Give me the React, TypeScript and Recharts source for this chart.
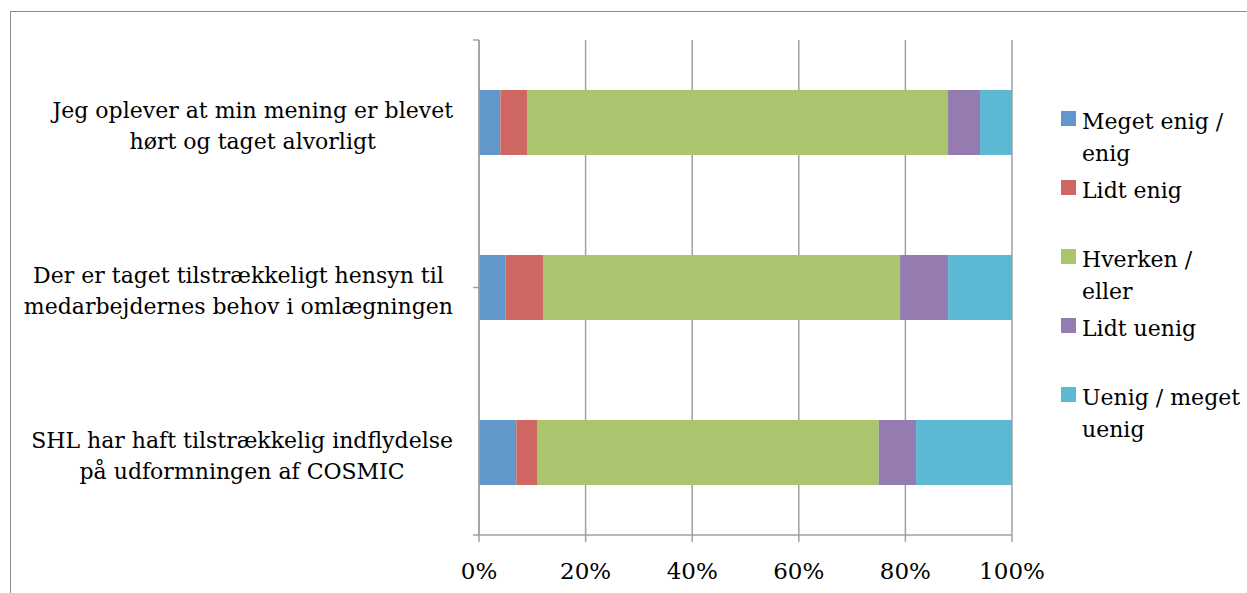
import React from "react";
import {
  BarChart,
  Bar,
  XAxis,
  YAxis,
  CartesianGrid,
  Legend,
} from "recharts";

const categories = [
  "Jeg oplever at min mening er blevet\nhørt og taget alvorligt",
  "Der er taget tilstrækkeligt hensyn til\nmedarbejdernes behov i omlægningen",
  "SHL har haft tilstrækkelig indflydelse\npå udformningen af COSMIC",
];

const seriesNames = [
  "Meget enig / enig",
  "Lidt enig",
  "Hverken / eller",
  "Lidt uenig",
  "Uenig / meget uenig",
];
const seriesColors = ["#6197CA", "#CF6862", "#ABC56F", "#957CB0", "#5DB9D3"];

// percent per category, top to bottom
const megetEnig = [4, 5, 7];
const lidtEnig = [5, 7, 4];
const hverken = [79, 67, 64];
const lidtUenig = [6, 9, 7];
const uenig = [6, 12, 18];

const xTicks = [0, 20, 40, 60, 80, 100];
const boundaryTicks = [0, 1, 2, 3];

const seriesValues = [megetEnig, lidtEnig, hverken, lidtUenig, uenig];

const data = categories.map((name, i) => {
  const row: Record<string, string | number> = { name };
  seriesNames.forEach((s, j) => {
    row[s] = seriesValues[j][i];
  });
  return row;
});

const FONT = "'DejaVu Serif', serif";
const GRAY = "#A0A0A0";

let ctx: CanvasRenderingContext2D | null = null;
function textWidth(s: string) {
  if (!ctx) ctx = document.createElement("canvas").getContext("2d");
  if (!ctx) return s.length * 12;
  ctx.font = "22px 'DejaVu Serif'";
  return ctx.measureText(s).width;
}

// label block is right aligned at x=453, each line centred in the block
const CategoryTick = (props: any) => {
  const { y, payload } = props;
  const lines = String(payload.value).split("\n");
  const w = Math.max(...lines.map(textWidth));
  const cx = 453 - w / 2;
  return (
    <g>
      {lines.map((l, i) => (
        <text
          key={i}
          x={cx}
          y={y - 5 + i * 31}
          textAnchor="middle"
          fontFamily={FONT}
          fontSize={22}
          fill="#000"
        >
          {l}
        </text>
      ))}
    </g>
  );
};

const LegendBox = () => (
  <div style={{ fontFamily: FONT, fontSize: 22, color: "#000" }}>
    {seriesNames.map((s, j) => (
      <div key={s} style={{ display: "flex", height: 69 }}>
        <div
          style={{
            width: 15,
            height: 15,
            marginTop: 5,
            marginRight: 6,
            background: seriesColors[j],
            flex: "none",
          }}
        />
        <div style={{ width: 162, lineHeight: "32px" }}>{s}</div>
      </div>
    ))}
  </div>
);

export default function App() {
  return (
    <div
      style={{
        position: "absolute",
        left: 0,
        top: 0,
        width: 1247,
        height: 593,
        background: "#fff",
      }}
    >
      <div
        style={{
          position: "absolute",
          left: 10,
          top: 11,
          width: 1237,
          height: 582,
          borderTop: "1px solid #8C8C8C",
          borderLeft: "1px solid #8C8C8C",
        }}
      />
      <div style={{ position: "absolute", left: 0, top: 0 }}>
        <BarChart
          width={1247}
          height={593}
          data={data}
          layout="vertical"
          margin={{ top: 40, right: 235, left: 0, bottom: 0 }}
        >
          <CartesianGrid
            horizontal={false}
            stroke={GRAY}
            strokeWidth={1.5}
            yAxisId="cat"
          />
          <XAxis
            type="number"
            domain={[0, 100]}
            ticks={xTicks}
            tickFormatter={(v) => `${v}%`}
            height={58}
            tickSize={7}
            tickMargin={21}
            stroke={GRAY}
            strokeWidth={1.5}
            tick={{ fontFamily: FONT, fontSize: 23, fill: "#000" }}
            interval={0}
          />
          <YAxis
            yAxisId="axisGrid"
            type="number"
            domain={[0, 3]}
            ticks={boundaryTicks}
            width={1}
            tickFormatter={() => ""}
            tickSize={6}
            stroke={GRAY}
            strokeWidth={1.5}
            interval={0}
          />
          <YAxis
            yAxisId="cat"
            type="category"
            dataKey="name"
            width={478}
            axisLine={false}
            tickLine={false}
            tick={(p: any) => <CategoryTick {...p} />}
            interval={0}
          />
          <Legend
            content={<LegendBox />}
            align="center"
            verticalAlign="middle"
            width={186}
            wrapperStyle={{ left: 1061, top: 106, width: 186 }}
          />
          {seriesNames.map((s, j) => (
            <Bar
              key={s}
              dataKey={s}
              name={s}
              stackId="a"
              yAxisId="cat"
              fill={seriesColors[j]}
              barSize={65}
              isAnimationActive={false}
            />
          ))}
        </BarChart>
      </div>
    </div>
  );
}
